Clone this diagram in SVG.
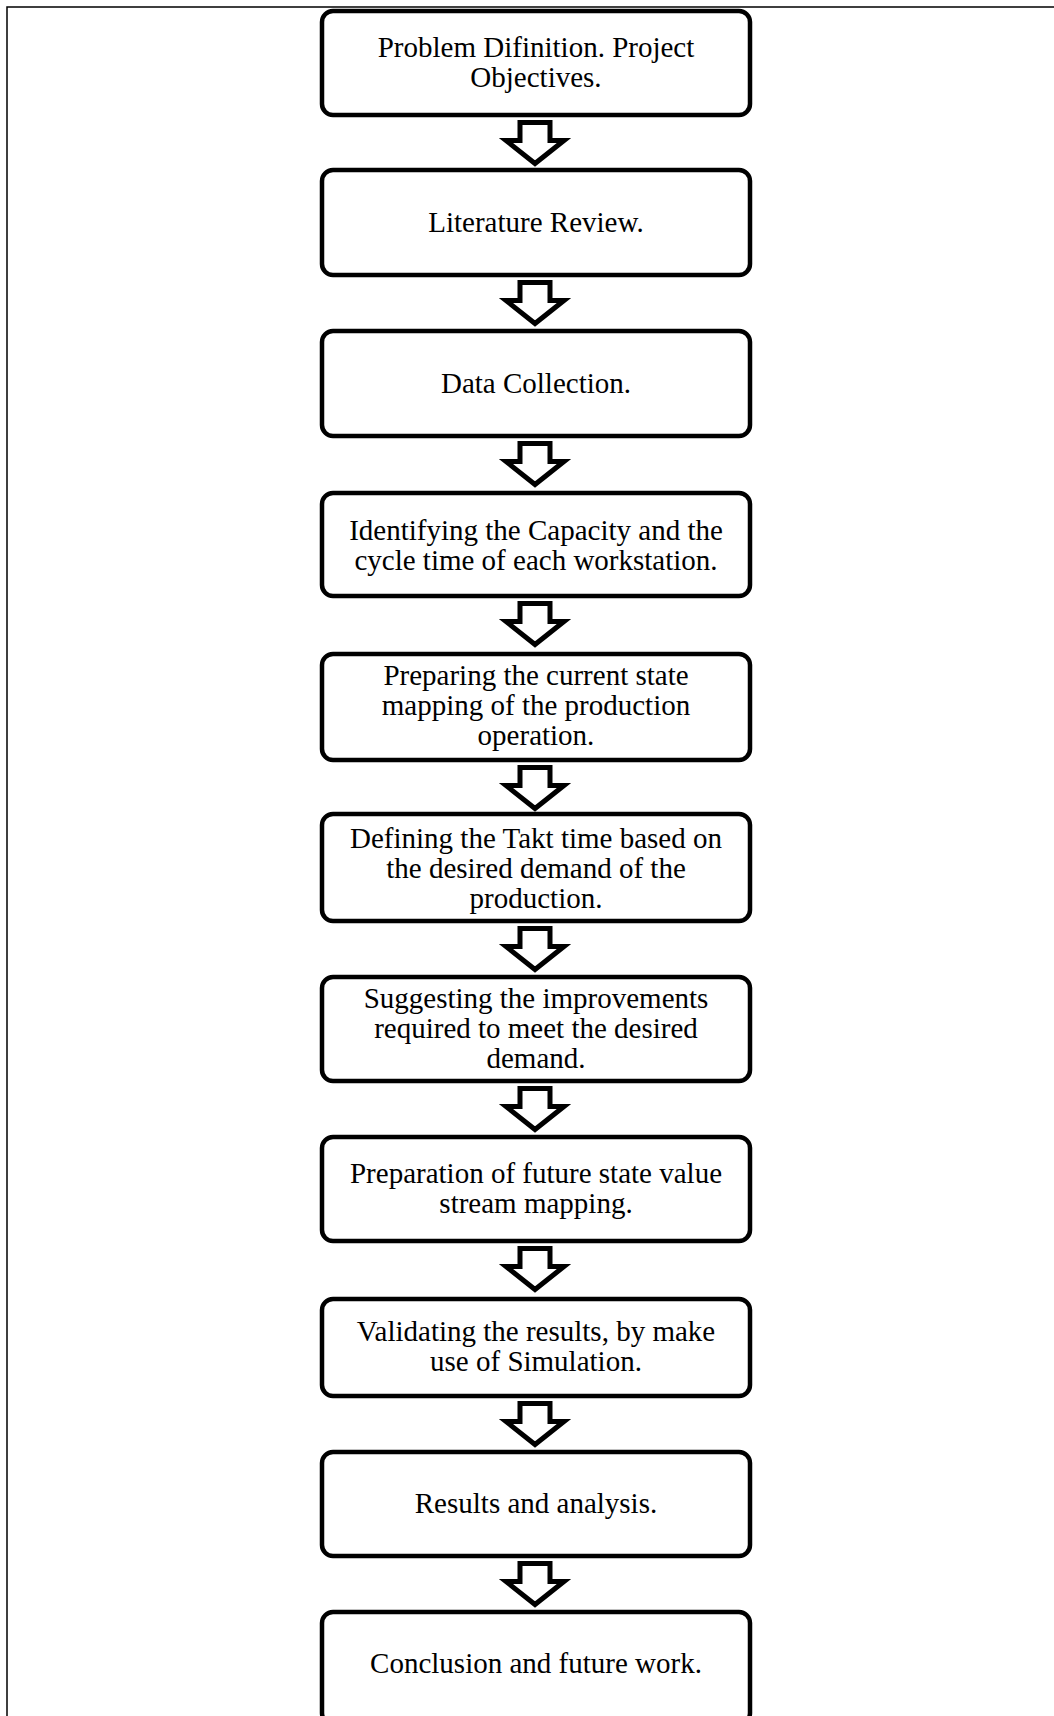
<svg xmlns="http://www.w3.org/2000/svg" width="1054" height="1716" viewBox="0 0 1054 1716">
<style>
.box{fill:#fff;stroke:#000;stroke-width:4.5}
.lbl{font-family:"Liberation Serif","Times New Roman",serif;font-size:29px;fill:#000;text-anchor:middle}
.arr{fill:#fff;stroke:#000;stroke-width:5;stroke-linejoin:miter;stroke-miterlimit:10}
.frame{fill:none;stroke:#000;stroke-width:1.5}
</style>
<defs>
<path id="blk" class="arr" d="M520,2.5 H550 V20.5 H564 L535,43.5 L506,20.5 H520 Z"/>
</defs>
<rect width="1054" height="1716" fill="#fff"/>
<path class="frame" d="M7,1716 V7 H1054"/>
<g id="connectors">
<use href="#blk" transform="translate(0,120)"/>
<use href="#blk" transform="translate(0,280)"/>
<use href="#blk" transform="translate(0,441)"/>
<use href="#blk" transform="translate(0,601)"/>
<use href="#blk" transform="translate(0,765)"/>
<use href="#blk" transform="translate(0,926)"/>
<use href="#blk" transform="translate(0,1086)"/>
<use href="#blk" transform="translate(0,1246)"/>
<use href="#blk" transform="translate(0,1401)"/>
<use href="#blk" transform="translate(0,1561)"/>
</g>
<g id="n1"><rect class="box" x="322" y="11" width="428" height="104" rx="11"/>
<text class="lbl"><tspan x="536" y="57">Problem Difinition. Project</tspan><tspan x="536" y="87">Objectives.</tspan></text></g>
<g id="n2"><rect class="box" x="322" y="170" width="428" height="105" rx="11"/>
<text class="lbl" x="536" y="232">Literature Review.</text></g>
<g id="n3"><rect class="box" x="322" y="331" width="428" height="105" rx="11"/>
<text class="lbl" x="536" y="393">Data Collection.</text></g>
<g id="n4"><rect class="box" x="322" y="493" width="428" height="103" rx="11"/>
<text class="lbl"><tspan x="536" y="540">Identifying the Capacity and the</tspan><tspan x="536" y="569.5">cycle time of each workstation.</tspan></text></g>
<g id="n5"><rect class="box" x="322" y="654" width="428" height="106" rx="11"/>
<text class="lbl"><tspan x="536" y="685">Preparing the current state</tspan><tspan x="536" y="715">mapping of the production</tspan><tspan x="536" y="745">operation.</tspan></text></g>
<g id="n6"><rect class="box" x="322" y="814" width="428" height="107" rx="11"/>
<text class="lbl"><tspan x="536" y="847.5">Defining the Takt time based on</tspan><tspan x="536" y="877.5">the desired demand of the</tspan><tspan x="536" y="907.5">production.</tspan></text></g>
<g id="n7"><rect class="box" x="322" y="977" width="428" height="104" rx="11"/>
<text class="lbl"><tspan x="536" y="1008">Suggesting the improvements</tspan><tspan x="536" y="1038">required to meet the desired</tspan><tspan x="536" y="1068">demand.</tspan></text></g>
<g id="n8"><rect class="box" x="322" y="1137" width="428" height="104" rx="11"/>
<text class="lbl"><tspan x="536" y="1183">Preparation of future state value</tspan><tspan x="536" y="1213">stream mapping.</tspan></text></g>
<g id="n9"><rect class="box" x="322" y="1299" width="428" height="97" rx="11"/>
<text class="lbl"><tspan x="536" y="1341">Validating the results, by make</tspan><tspan x="536" y="1371">use of Simulation.</tspan></text></g>
<g id="n10"><rect class="box" x="322" y="1452" width="428" height="104" rx="11"/>
<text class="lbl" x="536" y="1513">Results and analysis.</text></g>
<g id="n11"><rect class="box" x="322" y="1612" width="428" height="112" rx="11"/>
<text class="lbl" x="536" y="1673">Conclusion and future work.</text></g>
</svg>
